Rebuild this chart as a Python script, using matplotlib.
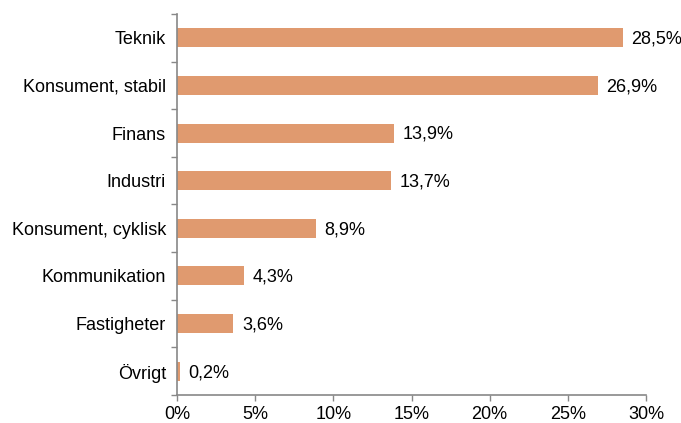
import matplotlib
matplotlib.use("Agg")
import matplotlib.pyplot as plt
from matplotlib.ticker import FixedLocator

categories = ["Teknik", "Konsument, stabil", "Finans", "Industri",
              "Konsument, cyklisk", "Kommunikation", "Fastigheter", "Övrigt"]
values = [28.5, 26.9, 13.9, 13.7, 8.9, 4.3, 3.6, 0.2]
xticks = [0, 5, 10, 15, 20, 25, 30]
xticklabels = ["0%", "5%", "10%", "15%", "20%", "25%", "30%"]

plt.rcParams['font.family'] = ['Liberation Sans', 'DejaVu Sans']
fig = plt.figure(figsize=(6.81, 4.23), dpi=100)
ax = fig.add_axes([177/681, 28/423, (646-177)/681, (395-14)/423])

n = len(categories)
ypos = list(range(n))
ax.barh(ypos, values, height=0.4, color="#E09A6F")
ax.set_ylim(n - 0.5, -0.5)
ax.set_xlim(0, 30)

fs = 13
for y, v in zip(ypos, values):
    ax.text(v + 0.55, y + 0.03, f"{v:.1f}%".replace(".", ","), va="center", ha="left",
            fontsize=fs, color="black")

ax.set_yticks(ypos)
ax.set_yticklabels(categories, fontsize=fs)
ax.yaxis.set_minor_locator(FixedLocator([i - 0.5 for i in range(n + 1)]))
ax.tick_params(axis="y", which="major", length=0, pad=8)
ax.tick_params(axis="y", which="minor", length=4, color="#888888", width=1)
ax.set_xticks(xticks)
ax.set_xticklabels(xticklabels, fontsize=fs)
ax.tick_params(axis="x", length=4, color="#888888", width=1, pad=4)

for s in ["top", "right"]:
    ax.spines[s].set_visible(False)
for s in ["left", "bottom"]:
    ax.spines[s].set_color("#888888")
    ax.spines[s].set_linewidth(1.2)

fig.savefig("out.png", dpi=100)
